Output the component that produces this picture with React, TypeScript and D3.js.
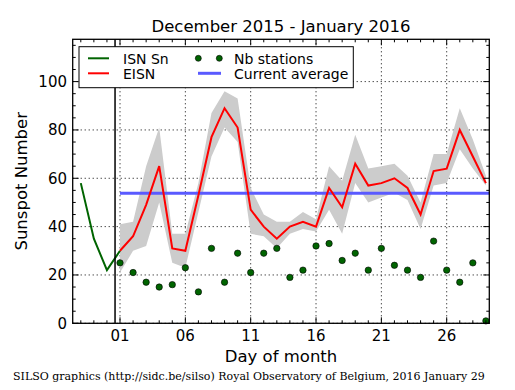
import React from 'react'
import * as d3 from 'd3'

// days of January 2016
const days = [1, 2, 3, 4, 5, 6, 7, 8, 9, 10, 11, 12, 13, 14, 15, 16, 17, 18, 19, 20, 21, 22, 23, 24, 25, 26, 27, 28, 29]
const eisn = [30, 36, 49, 65, 31, 30, 53, 77, 89, 81, 47, 40, 35, 40, 42, 40, 56, 48, 66, 57, 58, 60, 56, 45, 63, 64, 80, 69, 58]
const eisnHigh = [41, 42, 65, 81, 37, 37, 58, 87, 96, 93, 56, 45, 42, 42, 46, 43, 65, 59, 78, 64, 65, 66, 61, 50, 70, 70, 89, 76, 61]
const eisnLow = [21, 30, 32, 50, 25, 23, 46, 69, 81, 75, 37, 36, 31, 37, 39, 38, 47, 37, 58, 50, 52, 54, 51, 39, 57, 58, 72, 64, 57]
const stations = [25, 21, 17, 15, 16, 23, 13, 31, 17, 29, 21, 29, 31, 19, 22, 32, 33, 26, 29, 22, 31, 24, 22, 19, 34, 22, 17, 25, 1]

// end of December (ISN Sn)
const isnDays = [-2, -1, 0, 1]
const isnValues = [58, 35, 22, 30]

const currentAverage = 53.8
const monthBoundary = 0.62

const xTickDays = [1, 6, 11, 16, 21, 26]
const xTickLabels = ['01', '06', '11', '16', '21', '26']
const yTicks = [0, 20, 40, 60, 80, 100]

const W = 515
const H = 390
const left = 72.7
const right = 489.3
const top = 39.3
const bottom = 323.3

const font = 'DejaVu Sans, sans-serif'

const App = () => {
  const x = d3.scaleLinear().domain([-2.62, 29.26]).range([left, right])
  const y = d3.scaleLinear().domain([0, 117.5]).range([bottom, top])

  const band = d3
    .area<number>()
    .x((d, i) => x(days[i]))
    .y0((d, i) => y(eisnLow[i]))
    .y1(d => y(d))
  const line = d3
    .line<number>()
    .x((d, i) => x(days[i]))
    .y(d => y(d))
  const isnLine = d3
    .line<number>()
    .x((d, i) => x(isnDays[i]))
    .y(d => y(d))

  const minorX = d3.range(Math.ceil(x.domain()[0]), Math.floor(x.domain()[1]) + 1)
  const minorY = d3.range(0, 116, 5)

  return (
    <svg width={W} height={H} style={{ position: 'absolute', left: 0, top: 0 }}>
      <rect width={W} height={H} fill="white" />

      {/* grid */}
      {xTickDays.map(d => (
        <line key={'gx' + d} x1={x(d)} x2={x(d)} y1={top} y2={bottom}
          stroke="black" strokeWidth={1} strokeDasharray="1,3" />
      ))}
      {yTicks.map(v => (
        <line key={'gy' + v} x1={left} x2={right} y1={y(v)} y2={y(v)}
          stroke="black" strokeWidth={1} strokeDasharray="1,3" />
      ))}

      <path d={band(eisnHigh) || ''} fill="#cccccc" />
      <line x1={x(1)} x2={right} y1={y(currentAverage)} y2={y(currentAverage)}
        stroke="#5a5aff" strokeWidth={3} />
      <path d={isnLine(isnValues) || ''} fill="none" stroke="#006400" strokeWidth={2} />
      <path d={line(eisn) || ''} fill="none" stroke="red" strokeWidth={2} />
      {stations.map((v, i) => (
        <circle key={'s' + i} cx={x(days[i])} cy={y(v)} r={3.2}
          fill="#006400" stroke="black" strokeWidth={0.6} />
      ))}
      <line x1={x(monthBoundary)} x2={x(monthBoundary)} y1={top} y2={bottom}
        stroke="black" strokeWidth={1.5} />

      {/* ticks */}
      {minorX.map(d => {
        const len = xTickDays.includes(d) ? 6 : 3
        return (
          <g key={'tx' + d}>
            <line x1={x(d)} x2={x(d)} y1={bottom} y2={bottom - len} stroke="black" />
            <line x1={x(d)} x2={x(d)} y1={top} y2={top + len} stroke="black" />
          </g>
        )
      })}
      {minorY.map(v => {
        const len = v % 20 === 0 ? 6 : 3
        return (
          <g key={'ty' + v}>
            <line x1={left} x2={left + len} y1={y(v)} y2={y(v)} stroke="black" />
            <line x1={right} x2={right - len} y1={y(v)} y2={y(v)} stroke="black" />
          </g>
        )
      })}
      <rect x={left} y={top} width={right - left} height={bottom - top}
        fill="none" stroke="black" strokeWidth={1.3} />

      {/* tick labels */}
      {xTickDays.map((d, i) => (
        <text key={'lx' + d} x={x(d)} y={341} textAnchor="middle"
          fontFamily={font} fontSize={15}>{xTickLabels[i]}</text>
      ))}
      {yTicks.map(v => (
        <text key={'ly' + v} x={67} y={y(v) + 5.5} textAnchor="end"
          fontFamily={font} fontSize={15}>{v}</text>
      ))}

      {/* legend */}
      <rect x={79} y={46.7} width={274.3} height={41} fill="white" stroke="black" strokeWidth={1} />
      <line x1={88} x2={109} y1={58.3} y2={58.3} stroke="#006400" strokeWidth={2} />
      <text x={123} y={63.5} fontFamily={font} fontSize={14}>ISN Sn</text>
      <line x1={88} x2={109} y1={73.3} y2={73.3} stroke="red" strokeWidth={2} />
      <text x={123} y={78.5} fontFamily={font} fontSize={14}>EISN</text>
      <circle cx={198.3} cy={58.3} r={3} fill="#006400" stroke="black" strokeWidth={0.6} />
      <circle cx={219.3} cy={58.3} r={3} fill="#006400" stroke="black" strokeWidth={0.6} />
      <text x={234} y={63.5} fontFamily={font} fontSize={14}>Nb stations</text>
      <line x1={198} x2={221} y1={73.3} y2={73.3} stroke="#5a5aff" strokeWidth={3} />
      <text x={234} y={78.5} fontFamily={font} fontSize={14}>Current average</text>

      {/* titles */}
      <text x={(left + right) / 2} y={32} textAnchor="middle" fontFamily={font} fontSize={16.5}>
        December 2015 - January 2016
      </text>
      <text x={(left + right) / 2} y={362} textAnchor="middle" fontFamily={font} fontSize={16.5}>
        Day of month
      </text>
      <text transform={`translate(27 ${(top + bottom) / 2}) rotate(-90)`} textAnchor="middle"
        fontFamily={font} fontSize={16.5}>Sunspot Number</text>
      <text x={13} y={380} fontFamily="DejaVu Serif, serif" fontSize={11}>
        SILSO graphics (http://sidc.be/silso) Royal Observatory of Belgium, 2016 January 29
      </text>
    </svg>
  )
}

export default App
